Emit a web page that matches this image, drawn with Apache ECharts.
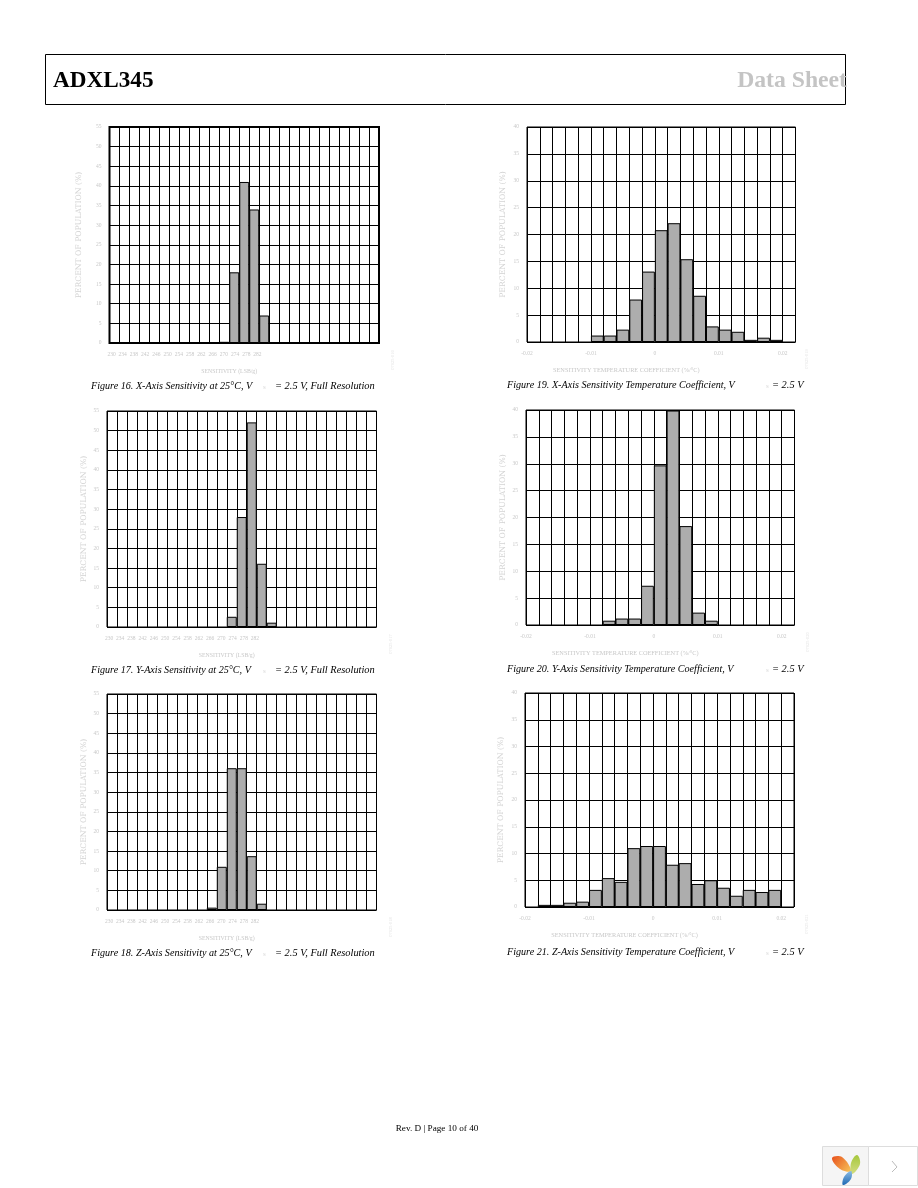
<!DOCTYPE html>
<html><head><meta charset="utf-8">
<style>html,body{margin:0;padding:0;background:#fff}#c{width:918px;height:1188px}</style>
<script src="https://cdn.jsdelivr.net/npm/echarts@6/dist/echarts.min.js"></script>
</head><body><div id="c"></div>
<script>
// ---- data ----
const fig16 = [0,0,0,0,0,0,0,0,0,0,0,0.3,18,41,34,7,0,0,0,0,0,0,0,0,0,0,0];
const fig17 = [0,0,0,0,0,0,0,0,0,0,0,0,2.6,28,52.1,16.1,1.1,0,0,0,0,0,0,0,0,0,0];
const fig18 = [0,0,0,0,0,0,0,0,0,0,0.6,11,36.1,36.1,13.7,1.6,0,0,0,0,0,0,0,0,0,0,0];
const fig19 = [0,0,0,0,0,1.2,1.2,2.3,7.9,13.1,20.8,22.1,15.4,8.6,2.9,2.3,1.9,0.4,0.8,0.4,0];
const fig20 = [0,0,0,0,0,0,0.8,1.2,1.2,7.3,29.7,39.9,18.4,2.3,0.8,0,0,0,0,0,0];
const fig21 = [0,0.4,0.4,0.8,1,3.2,5.4,4.7,11,11.4,11.4,7.9,8.2,4.3,5,3.6,2.1,3.2,2.8,3.2,0];
const sensTicks = ['230','234','238','242','246','250','254','258','262','266','270','274','278','282','','','','','','','','','','',''];
const coefTicks = ['-0.02','','','','','-0.01','','','','','0','','','','','0.01','','','','','0.02',''];
const sensName = 'SENSITIVITY (LSB/g)';
const coefName = 'SENSITIVITY TEMPERATURE COEFFICIENT (%/°C)';
const yName = 'PERCENT OF POPULATION (%)';

const panels = [
 {v:fig16,x0:109.5,x1:379,y0:127,y1:343,ymax:55,t:sensTicks,n:sensName,gap:26,shift:30,fs:5.8,pad:4,thick:2,cap:['Figure 16. X-Axis Sensitivity at 25°C, V','= 2.5 V, Full Resolution'],cx:[91,275],cy:386,sx:263,code:'07925-016',cd:393},
 {v:fig17,x0:107,x1:376.5,y0:411,y1:627,ymax:55,t:sensTicks,n:sensName,gap:19,shift:30,fs:5.8,pad:4,thick:1,cap:['Figure 17. Y-Axis Sensitivity at 25°C, V','= 2.5 V, Full Resolution'],cx:[91,275],cy:670,sx:263,code:'07925-017',cd:391},
 {v:fig18,x0:107,x1:376.5,y0:694,y1:910,ymax:55,t:sensTicks,n:sensName,gap:19,shift:30,fs:5.8,pad:4,thick:1,cap:['Figure 18. Z-Axis Sensitivity at 25°C, V','= 2.5 V, Full Resolution'],cx:[91,275],cy:953,sx:263,code:'07925-018',cd:391},
 {v:fig19,x0:527,x1:795.5,y0:127,y1:342,ymax:40,t:coefTicks,n:coefName,gap:20,shift:70,fs:6.3,pad:0,thick:1,cap:['Figure 19. X-Axis Sensitivity Temperature Coefficient, V','= 2.5 V'],cx:[507,772],cy:385,sx:766,code:'07925-019',cd:807},
 {v:fig20,x0:526,x1:794.5,y0:410,y1:625,ymax:40,t:coefTicks,n:coefName,gap:19,shift:70,fs:6.3,pad:0,thick:1,cap:['Figure 20. Y-Axis Sensitivity Temperature Coefficient, V','= 2.5 V'],cx:[507,772],cy:669,sx:766,code:'07925-020',cd:808},
 {v:fig21,x0:525,x1:794,y0:693,y1:907,ymax:40,t:coefTicks,n:coefName,gap:20,shift:70,fs:6.3,pad:0,thick:1,cap:['Figure 21. Z-Axis Sensitivity Temperature Coefficient, V','= 2.5 V'],cx:[507,772],cy:952,sx:766,code:'07925-021',cd:807}
];
const faint='#c8c8c8', serif='"Liberation Serif"';
const grid=[],xAxis=[],yAxis=[],series=[],graphic=[];
panels.forEach((p,i)=>{
  grid.push({left:p.x0,top:p.y0,width:p.x1-p.x0,height:p.y1-p.y0,show:true,borderColor:'#000',borderWidth:p.thick,backgroundColor:'#fff',containLabel:false});
  xAxis.push({type:'category',gridIndex:i,data:p.v.map((_,k)=>String(k+1)),
    axisLine:{show:false},axisTick:{show:false},axisLabel:{show:false},
    splitLine:{show:true,interval:0,lineStyle:{color:'#000',width:1}}});
  xAxis.push({type:'category',gridIndex:i,position:'bottom',boundaryGap:false,data:p.t,
    axisLine:{show:false},axisTick:{show:false},splitLine:{show:false},
    axisLabel:{interval:0,margin:9,hideOverlap:false,fontFamily:serif,fontSize:5.5,color:faint,padding:[0,0,0,p.pad]},
    name:p.n,nameLocation:'middle',nameGap:25,
    nameTextStyle:{fontFamily:serif,fontSize:p.fs,color:faint,padding:[0,p.shift,0,0]}});
  yAxis.push({type:'value',gridIndex:i,min:0,max:p.ymax,interval:5,
    axisLine:{show:false},axisTick:{show:false},
    splitLine:{show:true,lineStyle:{color:'#000',width:1}},
    axisLabel:{margin:8,fontFamily:serif,fontSize:5.5,color:faint},
    name:yName,nameLocation:'middle',nameGap:p.gap,nameRotate:90,
    nameTextStyle:{fontFamily:'"DejaVu Serif"',fontSize:7.7,color:'#d4d4d4'}});
  series.push({type:'bar',xAxisIndex:i*2,yAxisIndex:i,data:p.v.map(v=>v===0?null:v),barWidth:'100%',silent:true,
    itemStyle:{color:'#adadad',borderColor:'#000',borderWidth:1},animation:false});
  const capStyle={fontFamily:serif,fontStyle:'italic',fill:'#000'};
  graphic.push({type:'text',x:p.cx[0],y:p.cy,style:{...capStyle,fontSize:10.15,text:p.cap[0],textVerticalAlign:'middle'}});
  graphic.push({type:'text',x:p.cx[1],y:p.cy,style:{...capStyle,fontSize:10.4,text:p.cap[1],textVerticalAlign:'middle'}});
  graphic.push({type:'text',x:p.sx,y:p.cy+2,style:{fontFamily:serif,fontSize:5,fill:'#d0d0d0',text:'S',textVerticalAlign:'middle'}});
  graphic.push({type:'text',x:p.cd,y:p.y1+17,rotation:Math.PI/2,style:{fontFamily:serif,fontSize:4.5,fill:'#e2e2e2',text:p.code,textAlign:'center',textVerticalAlign:'middle'}});
});
// page furniture
graphic.push(
 {type:'rect',shape:{x:45.5,y:54.5,width:800,height:50},style:{fill:null,stroke:'#000',lineWidth:1}},
 {type:'text',x:53,y:81,style:{text:'ADXL345',fontFamily:serif,fontWeight:'bold',fontSize:23.2,fill:'#000',textVerticalAlign:'middle'}},
 {type:'text',x:847,y:81,style:{text:'Data Sheet',fontFamily:serif,fontWeight:'bold',fontSize:23.7,fill:'#c4c4c4',textAlign:'right',textVerticalAlign:'middle'}},
 {type:'text',x:437,y:1128.5,style:{text:'Rev. D | Page 10 of 40',fontFamily:serif,fontSize:9.2,fill:'#000',textAlign:'center',textVerticalAlign:'middle'}},
 {type:'rect',shape:{x:822.5,y:1146.5,width:46,height:39},style:{fill:'#f5f5f5',stroke:'#ddd',lineWidth:1}},
 {type:'rect',shape:{x:868.5,y:1146.5,width:49,height:39},style:{fill:'#fff',stroke:'#ddd',lineWidth:1}},
 {type:'polygon',shape:{smooth:0.4,points:[[832,1158],[842,1157],[851,1171],[840,1169]]},style:{fill:new echarts.graphic.LinearGradient(0,0,1,1,[{offset:0,color:'#e8501c'},{offset:1,color:'#f7c65a'}])}},
 {type:'polygon',shape:{smooth:0.4,points:[[857,1155],[860,1164],[852,1174],[851,1163]]},style:{fill:new echarts.graphic.LinearGradient(0,0,0,1,[{offset:0,color:'#a6c83c'},{offset:1,color:'#d2dc80'}])}},
 {type:'polygon',shape:{smooth:0.4,points:[[851,1171],[851,1179],[843,1185],[844,1177]]},style:{fill:new echarts.graphic.LinearGradient(0,0,0,1,[{offset:0,color:'#8cbce4'},{offset:1,color:'#1f69b4'}])}},
 {type:'polyline',shape:{points:[[892,1161],[897,1167],[892,1172]]},style:{fill:null,stroke:'#bbb',lineWidth:1}}
);
const chart=echarts.init(document.getElementById('c'),null,{renderer:'canvas'});
chart.setOption({animation:false,backgroundColor:'#fff',grid,xAxis,yAxis,series,graphic});
</script></body></html>
